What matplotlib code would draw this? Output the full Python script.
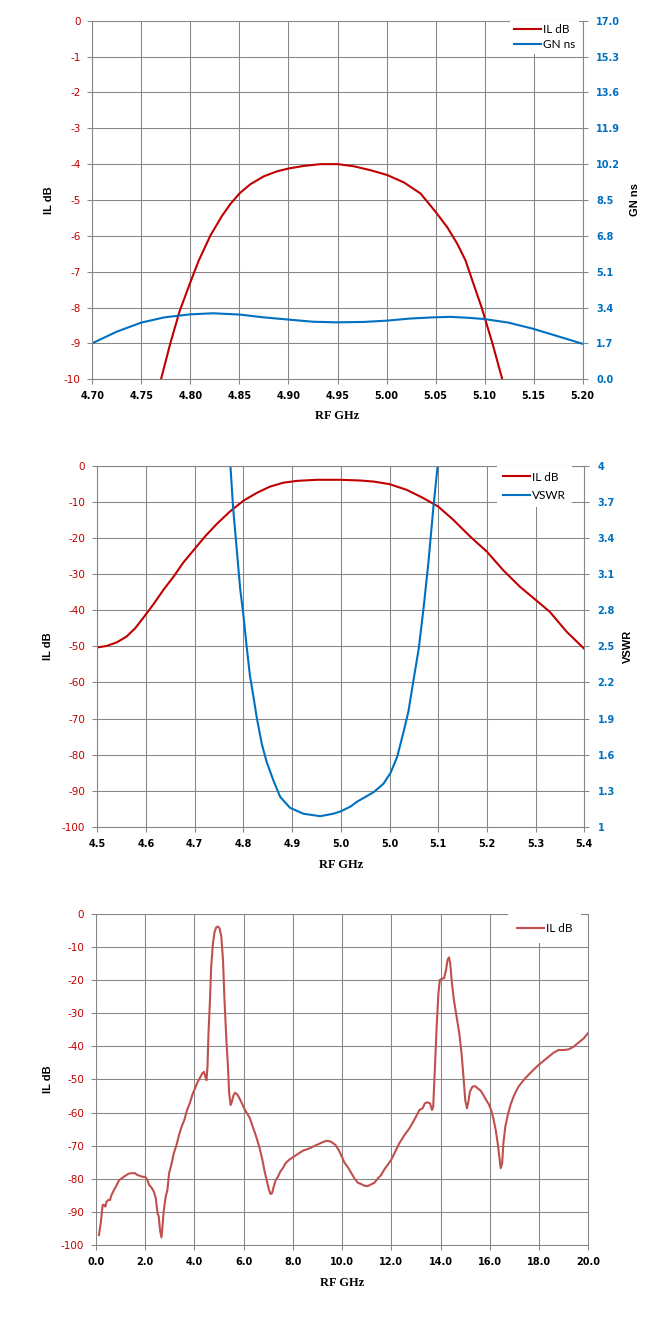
import matplotlib
matplotlib.use("Agg")
import matplotlib.pyplot as plt

plt.rcParams["axes.unicode_minus"] = False

GRID = "#868686"
RED = "#C00000"
BLUE = "#0070C0"
RED_LIGHT = "#C0504D"

# ---- panel 1: passband IL and group delay ----
f1 = [4.770, 4.7795, 4.789, 4.8007, 4.8085, 4.8204, 4.8323, 4.8408, 4.8503, 4.8612,
      4.8748, 4.8884, 4.9003, 4.9156, 4.9327, 4.9503, 4.9667, 4.9837, 5.0003, 5.0177,
      5.0347, 5.0503, 5.0619, 5.0721, 5.0806, 5.0874, 5.097, 5.108, 5.118]
il1 = [-10.0, -9.0, -8.1, -7.24, -6.69, -5.99, -5.44, -5.11, -4.81, -4.56,
       -4.34, -4.20, -4.12, -4.05, -4.00, -4.00, -4.06, -4.17, -4.30, -4.51,
       -4.82, -5.34, -5.76, -6.22, -6.69, -7.24, -8.0, -9.0, -10.0]
f_gn = [4.700, 4.725, 4.750, 4.774, 4.800, 4.823, 4.850, 4.874, 4.900, 4.925,
        4.949, 4.977, 5.000, 5.024, 5.049, 5.065, 5.082, 5.099, 5.124, 5.149,
        5.174, 5.200]
gn = [1.71, 2.26, 2.69, 2.94, 3.08, 3.13, 3.07, 2.94, 2.83, 2.73,
      2.70, 2.72, 2.78, 2.88, 2.94, 2.96, 2.92, 2.86, 2.69, 2.40,
      2.05, 1.68]
x1_ticks = [4.70, 4.75, 4.80, 4.85, 4.90, 4.95, 5.00, 5.05, 5.10, 5.15, 5.20]
x1_labels = ["4.70", "4.75", "4.80", "4.85", "4.90", "4.95", "5.00", "5.05",
             "5.10", "5.15", "5.20"]
il1_ticks = [0, -1, -2, -3, -4, -5, -6, -7, -8, -9, -10]
gn_ticks = [0.0, 1.7, 3.4, 5.1, 6.8, 8.5, 10.2, 11.9, 13.6, 15.3, 17.0]
gn_labels = ["0.0", "1.7", "3.4", "5.1", "6.8", "8.5", "10.2", "11.9",
             "13.6", "15.3", "17.0"]

# ---- panel 2: wider IL and VSWR ----
f2 = [4.500, 4.517, 4.536, 4.554, 4.570, 4.585, 4.604, 4.622, 4.641, 4.659,
      4.679, 4.699, 4.721, 4.745, 4.770, 4.795, 4.819, 4.844, 4.869, 4.906,
      4.949, 4.986, 5.011, 5.040, 5.072, 5.103, 5.130, 5.158, 5.189, 5.220,
      5.250, 5.281, 5.309, 5.336, 5.367, 5.400]
il2 = [-50.3, -49.9, -48.9, -47.3, -45.0, -42.1, -38.3, -34.4, -30.7, -26.8,
       -23.2, -19.6, -16.1, -12.7, -9.7, -7.5, -5.8, -4.7, -4.2, -3.9,
       -3.9, -4.1, -4.4, -5.1, -6.7, -9.0, -11.3, -15.0, -19.6, -23.8,
       -28.9, -33.5, -37.0, -40.4, -45.9, -50.7]
f_vswr = [4.746, 4.751, 4.758, 4.764, 4.770, 4.776, 4.782, 4.789, 4.795, 4.804,
          4.813, 4.826, 4.838, 4.856, 4.881, 4.912, 4.936, 4.950, 4.968, 4.980,
          5.011, 5.029, 5.042, 5.054, 5.066, 5.075, 5.084, 5.094, 5.103, 5.112,
          5.121, 5.129]
vswr = [4.0, 3.65, 3.29, 2.98, 2.76, 2.50, 2.26, 2.07, 1.90, 1.69,
        1.54, 1.38, 1.25, 1.16, 1.11, 1.09, 1.11, 1.13, 1.17, 1.21,
        1.29, 1.36, 1.45, 1.58, 1.79, 1.96, 2.21, 2.48, 2.82, 3.20,
        3.65, 4.0]
x2_ticks = [4.50, 4.59, 4.68, 4.77, 4.86, 4.95, 5.04, 5.13, 5.22, 5.31, 5.40]
x2_labels = ["4.5", "4.6", "4.7", "4.8", "4.9", "5.0", "5.0", "5.1", "5.2",
             "5.3", "5.4"]
il2_ticks = [0, -10, -20, -30, -40, -50, -60, -70, -80, -90, -100]
vswr_ticks = [1.0, 1.3, 1.6, 1.9, 2.2, 2.5, 2.8, 3.1, 3.4, 3.7, 4.0]
vswr_labels = ["1", "1.3", "1.6", "1.9", "2.2", "2.5", "2.8", "3.1", "3.4",
               "3.7", "4"]

# ---- panel 3: broadband IL ----
f3 = [0.12, 0.19, 0.27, 0.32, 0.38, 0.43, 0.50, 0.57, 0.63, 0.73,
      0.84, 0.94, 1.07, 1.17, 1.31, 1.44, 1.58, 1.67, 1.78, 1.89,
      2.00, 2.08, 2.16, 2.25, 2.35, 2.43, 2.50, 2.55, 2.60, 2.66,
      2.70, 2.75, 2.83, 2.90, 2.97, 3.06, 3.16, 3.27, 3.37, 3.48,
      3.59, 3.70, 3.81, 3.91, 4.02, 4.13, 4.24, 4.32, 4.39, 4.44,
      4.49, 4.53, 4.57, 4.63, 4.68, 4.75, 4.82, 4.89, 4.95, 5.02,
      5.09, 5.16, 5.22, 5.29, 5.36, 5.41, 5.47, 5.52, 5.59, 5.65,
      5.74, 5.83, 5.94, 6.05, 6.24, 6.38, 6.51, 6.65, 6.76, 6.85,
      6.95, 7.03, 7.09, 7.15, 7.22, 7.30, 7.39, 7.49, 7.59, 7.70,
      7.84, 8.00, 8.20, 8.41, 8.61, 8.81, 9.01, 9.22, 9.38, 9.55,
      9.73, 9.86, 9.99, 10.09, 10.23, 10.36, 10.50, 10.64, 10.77, 10.91,
      11.04, 11.18, 11.31, 11.45, 11.58, 11.72, 11.85, 11.99, 12.12, 12.32,
      12.53, 12.73, 12.93, 13.14, 13.27, 13.36, 13.46, 13.57, 13.65, 13.70,
      13.77, 13.84, 13.91, 13.97, 14.04, 14.14, 14.22, 14.28, 14.34, 14.39,
      14.46, 14.54, 14.65, 14.76, 14.85, 14.94, 15.00, 15.07, 15.13, 15.19,
      15.29, 15.40, 15.51, 15.63, 15.74, 15.85, 15.96, 16.05, 16.14, 16.24,
      16.32, 16.39, 16.44, 16.50, 16.55, 16.63, 16.73, 16.85, 16.99, 17.16,
      17.37, 17.57, 17.77, 17.98, 18.18, 18.39, 18.59, 18.79, 19.00, 19.20,
      19.40, 19.60, 19.81, 20.00]
il3 = [-97.0, -93.5, -87.9, -87.9, -88.4, -86.9, -86.4, -86.4, -84.9, -83.4,
       -81.9, -80.4, -79.7, -79.2, -78.5, -78.3, -78.3, -78.8, -79.1, -79.4,
       -79.4, -80.2, -81.9, -82.6, -83.9, -85.9, -90.4, -91.4, -95.5, -97.7,
       -94.5, -89.9, -85.4, -83.4, -78.3, -75.8, -72.3, -69.8, -66.8, -64.2,
       -62.2, -59.2, -57.2, -54.7, -52.7, -50.7, -49.3, -48.1, -47.7, -49.1,
       -50.2, -46.1, -36.1, -26.0, -15.9, -8.9, -5.3, -4.0, -3.8, -4.3,
       -6.8, -13.9, -26.0, -37.1, -46.1, -54.2, -57.7, -56.7, -54.7, -54.0,
       -54.5, -55.7, -57.4, -59.2, -61.5, -64.5, -67.3, -70.8, -74.3, -77.8,
       -80.9, -83.4, -84.6, -84.4, -82.4, -80.4, -79.4, -77.8, -76.8, -75.3,
       -74.3, -73.5, -72.5, -71.5, -71.0, -70.3, -69.6, -68.9, -68.5, -68.8,
       -69.8, -71.3, -73.3, -75.1, -76.5, -78.1, -79.9, -81.2, -81.6, -82.1,
       -82.2, -81.7, -81.2, -79.9, -78.9, -77.1, -75.8, -74.3, -72.3, -69.3,
       -66.8, -64.8, -62.2, -59.2, -58.7, -57.2, -56.9, -57.2, -59.2, -58.2,
       -46.1, -34.1, -24.0, -19.9, -19.6, -19.4, -16.9, -13.9, -13.1, -14.9,
       -20.9, -26.0, -31.0, -36.1, -42.1, -50.2, -56.2, -58.7, -56.7, -53.7,
       -52.2, -52.0, -52.7, -53.4, -54.7, -56.2, -57.5, -59.2, -61.7, -65.3,
       -69.3, -73.8, -76.8, -75.3, -69.3, -64.2, -60.7, -57.4, -54.7, -52.2,
       -50.2, -48.6, -47.1, -45.6, -44.4, -43.1, -41.9, -41.1, -41.1, -40.9,
       -40.1, -38.9, -37.6, -35.9]
x3_ticks = [0, 2, 4, 6, 8, 10, 12, 14, 16, 18, 20]
x3_labels = ["0.0", "2.0", "4.0", "6.0", "8.0", "10.0", "12.0", "14.0",
             "16.0", "18.0", "20.0"]
il3_ticks = il2_ticks


TICK_FONT = dict(family="DejaVu Sans")
TITLE_FONT = dict(family="Liberation Sans", fontsize=8, fontweight="bold")
XTITLE_FONT = dict(family="Liberation Serif", fontsize=9, fontweight="bold")


def base_axes(ax, xticks, xlabels, yticks):
    ax.set_axisbelow(True)
    ax.grid(True, color=GRID, lw=0.75)
    for s in ax.spines.values():
        s.set_color(GRID)
        s.set_linewidth(0.75)
    ax.tick_params(direction="out", length=3.6, width=0.75, color=GRID)
    ax.tick_params(axis="x", pad=5)
    ax.tick_params(axis="y", pad=5, labelcolor=RED, labelsize=7.5)
    ax.set_xticks(xticks)
    ax.set_xticklabels(xlabels, fontsize=7, fontweight="bold", **TICK_FONT)
    ax.set_yticks(yticks)
    ax.set_yticklabels([str(t) for t in yticks], **TICK_FONT)


def right_axis(ax2, ticks, labels):
    for s in ax2.spines.values():
        s.set_color(GRID)
        s.set_linewidth(0.75)
    ax2.tick_params(direction="out", length=3.6, width=0.75, color=GRID,
                    pad=6, labelcolor=BLUE)
    ax2.set_yticks(ticks)
    ax2.set_yticklabels(labels, fontsize=7, fontweight="bold", **TICK_FONT)


def titles(ax, ylab_x, xlab_y, right_text=None, right_x=None):
    ax.text(ylab_x, 0.5, "IL dB", rotation=90, ha="center", va="center",
            transform=ax.transAxes, **TITLE_FONT)
    ax.text(0.5, xlab_y, "RF GHz", ha="center", va="center",
            transform=ax.transAxes, **XTITLE_FONT)
    if right_text:
        ax.text(right_x, 0.5, right_text, rotation=90, ha="center",
                va="center", transform=ax.transAxes, **TITLE_FONT)


def legend(ax, handles, x0, spacing, pad):
    leg = ax.legend(handles=handles, loc="upper left", bbox_to_anchor=(x0, 1.0),
                    borderaxespad=0, frameon=True, fancybox=False,
                    facecolor="white", edgecolor="none", framealpha=1,
                    handlelength=2.26, handletextpad=0.2, labelspacing=spacing,
                    borderpad=pad, prop=dict(family="Lato", size=8.5))
    leg.set_zorder(10)


fig = plt.figure(figsize=(6.71, 13.32), dpi=100)

# panel 1
ax1 = fig.add_axes([0.1376, 0.71524, 0.7308, 0.26922])
l_il1, = ax1.plot(f1, il1, color=RED, lw=1.5, label="IL dB")
ax1.set_xlim(4.70, 5.20)
ax1.set_ylim(-10, 0)
base_axes(ax1, x1_ticks, x1_labels, il1_ticks)
ax1b = ax1.twinx()
l_gn, = ax1b.plot(f_gn, gn, color=BLUE, lw=1.5, label="GN ns")
ax1b.set_ylim(0, 17)
right_axis(ax1b, gn_ticks, gn_labels)
titles(ax1, -0.0887, -0.1015, "GN ns", 1.1073)
legend(ax1b, [l_il1, l_gn], 0.8522, 0.31, 0.32)

# panel 2
ax2 = fig.add_axes([0.1450, 0.37913, 0.7258, 0.27125])
l_il2, = ax2.plot(f2, il2, color=RED, lw=1.5, label="IL dB")
ax2.set_xlim(4.50, 5.40)
ax2.set_ylim(-100, 0)
base_axes(ax2, x2_ticks, x2_labels, il2_ticks)
ax2b = ax2.twinx()
l_vs, = ax2b.plot(f_vswr, vswr, color=BLUE, lw=1.5, label="VSWR")
ax2b.set_ylim(1, 4)
right_axis(ax2b, vswr_ticks, vswr_labels)
titles(ax2, -0.1012, -0.105, "VSWR", 1.0897)
legend(ax2b, [l_il2, l_vs], 0.8216, 0.64, 0.5)

# panel 3
ax3 = fig.add_axes([0.14307, 0.06532, 0.73368, 0.24850])
l_il3, = ax3.plot(f3, il3, color=RED_LIGHT, lw=1.5, label="IL dB")
ax3.set_xlim(0, 20)
ax3.set_ylim(-100, 0)
base_axes(ax3, x3_ticks, x3_labels, il3_ticks)
titles(ax3, -0.0975, -0.115)
legend(ax3, [l_il3], 0.8369, 0.4, 0.76)

fig.savefig("out.png", dpi=100)
